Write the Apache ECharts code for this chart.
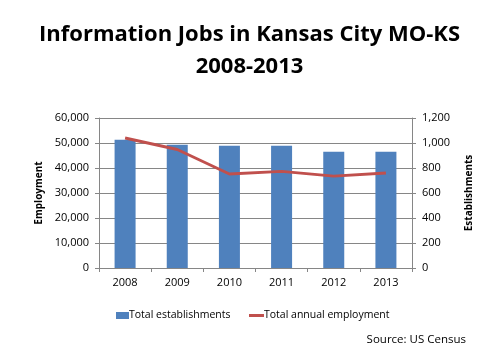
<!DOCTYPE html>
<html><head><meta charset="utf-8">
<script src="https://cdn.jsdelivr.net/npm/echarts@6/dist/echarts.min.js"></script>
<style>html,body{margin:0;padding:0;background:#fff}#c{width:499px;height:355px}</style>
</head><body><div id="c"></div>
<script>
const categories = ['2008','2009','2010','2011','2012','2013'];
const barValues = [51300, 49300, 48900, 48900, 46500, 46500];
const lineValues = [1040, 948, 752, 773, 735, 760];
const leftTicks = [0, 10000, 20000, 30000, 40000, 50000, 60000];
const rightTicks = [0, 200, 400, 600, 800, 1000, 1200];

const chart = echarts.init(document.getElementById('c'));
const fmt = v => v.toLocaleString('en-US');
const F = 'Open Sans';
const legendText = {fontFamily: F, fontSize: 10.5, color: '#000', padding: [0,0,0,-5]};
chart.setOption({
  animation: false,
  title: [
    {text: 'Information Jobs in Kansas City MO-KS\n2008-2013', left: 'center', top: 14,
     textStyle: {fontFamily: F, fontWeight: 'bold', fontSize: 22, lineHeight: 32, color: '#000'}},
    {text: 'Source: US Census', right: 28, top: 329,
     textStyle: {fontFamily: F, fontWeight: 'normal', fontSize: 11.5, color: '#000'}}
  ],
  grid: {left: 99, right: 87, top: 118, bottom: 87, containLabel: false},
  legend: [
    {top: 305, left: 111, itemWidth: 13, itemHeight: 7, icon: 'rect',
     textStyle: legendText, data: ['Total establishments']},
    {top: 305, left: 244, itemWidth: 15, itemHeight: 3, icon: 'rect',
     textStyle: legendText, data: ['Total annual employment']}
  ],
  xAxis: {
    type: 'category', data: categories,
    axisLine: {lineStyle: {color: '#868686'}},
    axisTick: {show: true, length: 4, lineStyle: {color: '#868686'}},
    axisLabel: {fontFamily: F, fontSize: 11, color: '#000', margin: 9}
  },
  yAxis: [
    {type: 'value', min: leftTicks[0], max: leftTicks[leftTicks.length-1], interval: 10000,
     name: 'Employment', nameLocation: 'middle', nameGap: 53, nameRotate: 90,
     nameTextStyle: {fontFamily: F, fontWeight: 'bold', fontSize: 10, color: '#000'},
     axisLine: {show: true, lineStyle: {color: '#868686'}},
     axisTick: {show: true, length: 4, lineStyle: {color: '#868686'}},
     splitLine: {lineStyle: {color: '#868686'}},
     axisLabel: {fontFamily: F, fontSize: 11, color: '#000', margin: 10, formatter: fmt}},
    {type: 'value', min: rightTicks[0], max: rightTicks[rightTicks.length-1], interval: 200,
     name: 'Establishments', nameLocation: 'middle', nameGap: 52, nameRotate: 90,
     nameTextStyle: {fontFamily: F, fontWeight: 'bold', fontSize: 10, color: '#000'},
     axisLine: {show: true, lineStyle: {color: '#868686'}},
     axisTick: {show: true, length: 4, lineStyle: {color: '#868686'}},
     splitLine: {show: false},
     axisLabel: {fontFamily: F, fontSize: 11, color: '#000', margin: 10, formatter: fmt}}
  ],
  series: [
    {name: 'Total establishments', type: 'bar', yAxisIndex: 0, data: barValues,
     barWidth: 21, itemStyle: {color: '#4F81BD'}},
    {name: 'Total annual employment', type: 'line', yAxisIndex: 1, data: lineValues,
     symbol: 'none', lineStyle: {color: '#C0504D', width: 3}, itemStyle: {color: '#C0504D'}}
  ]
});
</script></body></html>
